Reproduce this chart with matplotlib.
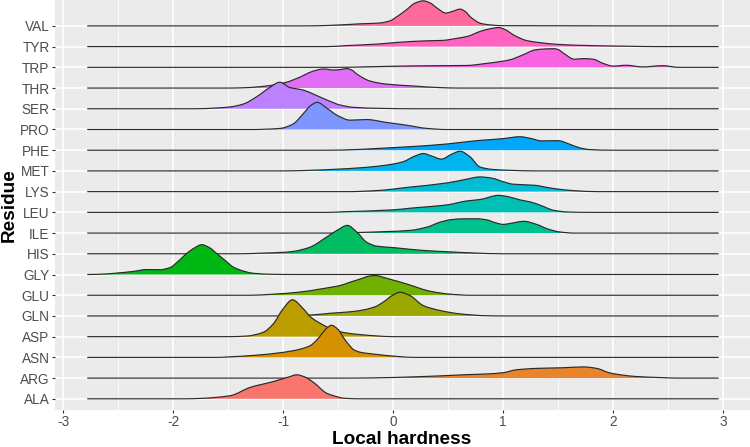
import numpy as np
import matplotlib
matplotlib.use("Agg")
import matplotlib.pyplot as plt
from matplotlib.path import Path
from matplotlib.patches import PathPatch

plt.rcParams['font.family'] = ['Liberation Sans', 'DejaVu Sans']

residues = ["ALA", "ARG", "ASN", "ASP", "GLN", "GLU", "GLY", "HIS", "ILE", "LEU",
            "LYS", "MET", "PHE", "PRO", "SER", "THR", "TRP", "TYR", "VAL"]

x_ticks = [-3, -2, -1, 0, 1, 2, 3]

# density outlines: x (local hardness) and height (in row units)
ala_x = [-2.78, -1.9, -1.75, -1.48, -1.3, -1.09, -0.95, -0.875, -0.8, -0.725, -0.6, -0.54, -0.45, -0.3, 2.96]
ala_h = [0, 0, 0.02, 0.15, 0.55, 0.83, 1.05, 1.16, 1.05, 0.8, 0.26, 0.15, 0.03, 0, 0]

arg_x = [-2.78, -0.4, 0.0, 0.185, 0.44, 0.64, 0.85, 1.0, 1.12, 1.31, 1.55, 1.73, 1.85, 1.97, 2.08, 2.2, 2.41, 2.6, 2.96]
arg_h = [0, 0, 0.03, 0.06, 0.11, 0.16, 0.2, 0.26, 0.4, 0.47, 0.5, 0.54, 0.47, 0.25, 0.15, 0.08, 0.03, 0, 0]

asn_x = [-2.78, -1.6, -1.51, -1.21, -0.91, -0.755, -0.7, -0.66, -0.6, -0.56, -0.5, -0.45, -0.4, -0.36, -0.3, -0.16, 0.03, 0.2, 2.96]
asn_h = [0, 0, 0.02, 0.12, 0.32, 0.56, 0.8, 1.05, 1.42, 1.55, 1.35, 0.95, 0.6, 0.38, 0.25, 0.15, 0.05, 0, 0]

asp_x = [-2.78, -1.5, -1.33, -1.18, -1.09, -1.0, -0.915, -0.815, -0.755, -0.725, -0.63, -0.55, -0.45, -0.3, -0.16, 0.0, 2.96]
asp_h = [0, 0, 0.03, 0.21, 0.61, 1.34, 1.78, 1.34, 0.98, 0.85, 0.55, 0.35, 0.2, 0.1, 0.04, 0, 0]

gln_x = [-2.78, -1.0, -0.785, -0.57, -0.39, -0.27, -0.16, -0.08, -0.01, 0.064, 0.155, 0.275, 0.43, 0.61, 0.85, 1.0, 2.96]
gln_h = [0, 0, 0.03, 0.13, 0.2, 0.29, 0.45, 0.7, 0.98, 1.14, 0.98, 0.5, 0.26, 0.1, 0.01, 0, 0]

glu_x = [-2.78, -1.3, -1.09, -0.85, -0.66, -0.57, -0.48, -0.39, -0.3, -0.21, -0.16, -0.06, 0.12, 0.34, 0.52, 0.7, 2.96]
glu_h = [0, 0, 0.05, 0.15, 0.3, 0.38, 0.47, 0.63, 0.78, 0.93, 0.95, 0.82, 0.55, 0.19, 0.05, 0, 0]

gly_x = [-2.78, -2.6, -2.51, -2.36, -2.24, -2.12, -2.03, -1.95, -1.88, -1.8, -1.74, -1.67, -1.6, -1.52, -1.45, -1.35, -1.27, -1.1, -0.9, 2.96]
gly_h = [0, 0.03, 0.07, 0.15, 0.24, 0.23, 0.33, 0.65, 1.0, 1.3, 1.44, 1.3, 1.0, 0.65, 0.35, 0.15, 0.06, 0.01, 0, 0]

his_x = [-2.78, -1.4, -1.2, -0.97, -0.9, -0.755, -0.6, -0.51, -0.415, -0.33, -0.24, -0.15, 0.0, 0.15, 0.31, 0.49, 0.73, 1.0, 2.96]
his_h = [0, 0, 0.03, 0.08, 0.12, 0.32, 0.82, 1.13, 1.37, 1.05, 0.56, 0.37, 0.3, 0.22, 0.15, 0.1, 0.04, 0, 0]

ile_x = [-2.78, -0.5, -0.3, 0.155, 0.31, 0.43, 0.53, 0.65, 0.76, 0.85, 0.93, 1.0, 1.1, 1.185, 1.31, 1.4, 1.52, 1.65, 2.96]
ile_h = [0, 0, 0.03, 0.13, 0.29, 0.53, 0.65, 0.69, 0.69, 0.64, 0.5, 0.42, 0.5, 0.57, 0.41, 0.21, 0.05, 0, 0]

leu_x = [-2.78, -0.6, -0.45, 0.0, 0.155, 0.29, 0.49, 0.67, 0.79, 0.96, 1.06, 1.155, 1.25, 1.34, 1.46, 1.58, 1.8, 2.96]
leu_h = [0, 0, 0.03, 0.12, 0.2, 0.26, 0.36, 0.55, 0.62, 0.82, 0.74, 0.6, 0.5, 0.34, 0.1, 0.02, 0, 0]

lys_x = [-2.78, -0.4, -0.15, 0.155, 0.49, 0.65, 0.79, 0.9, 1.0, 1.09, 1.28, 1.46, 1.64, 1.85, 2.96]
lys_h = [0, 0, 0.05, 0.22, 0.42, 0.58, 0.71, 0.65, 0.48, 0.36, 0.31, 0.15, 0.05, 0, 0]

met_x = [-2.78, -1.0, -0.75, -0.3, -0.06, 0.09, 0.2, 0.275, 0.35, 0.44, 0.53, 0.61, 0.7, 0.79, 0.91, 1.06, 1.3, 2.96]
met_h = [0, 0, 0.03, 0.15, 0.28, 0.44, 0.72, 0.84, 0.72, 0.57, 0.8, 0.95, 0.68, 0.19, 0.07, 0.03, 0, 0]

phe_x = [-2.78, -0.6, -0.3, -0.16, 0.155, 0.49, 0.76, 0.91, 1.0, 1.155, 1.25, 1.35, 1.5, 1.61, 1.7, 1.79, 2.0, 2.96]
phe_h = [0, 0, 0.04, 0.08, 0.17, 0.3, 0.46, 0.52, 0.56, 0.65, 0.57, 0.45, 0.46, 0.28, 0.11, 0.03, 0, 0]

pro_x = [-2.78, -1.3, -1.03, -0.91, -0.815, -0.75, -0.69, -0.6, -0.51, -0.39, -0.24, -0.06, 0.12, 0.31, 0.49, 2.96]
pro_h = [0, 0, 0.05, 0.26, 0.77, 1.15, 1.31, 1.02, 0.69, 0.45, 0.48, 0.34, 0.21, 0.05, 0, 0]

ser_x = [-2.78, -1.8, -1.6, -1.48, -1.36, -1.24, -1.12, -1.03, -0.94, -0.815, -0.725, -0.6, -0.48, -0.36, -0.12, 0.2, 2.96]
ser_h = [0, 0, 0.04, 0.09, 0.23, 0.58, 1.03, 1.28, 1.03, 0.9, 0.71, 0.42, 0.18, 0.07, 0.02, 0, 0]

thr_x = [-2.78, -1.5, -1.33, -1.15, -0.97, -0.85, -0.75, -0.69, -0.63, -0.54, -0.47, -0.42, -0.37, -0.33, -0.21, -0.06, 0.185, 0.43, 0.6, 2.96]
thr_h = [0, 0, 0.02, 0.1, 0.28, 0.52, 0.77, 0.87, 0.92, 0.87, 0.9, 0.94, 0.85, 0.68, 0.34, 0.19, 0.1, 0.02, 0, 0]

trp_x = [-2.78, -0.5, -0.2, 0.2, 0.43, 0.67, 0.85, 1.0, 1.06, 1.18, 1.29, 1.36, 1.46, 1.5, 1.55, 1.65, 1.73, 1.82, 1.91, 2.0, 2.12, 2.27, 2.45, 2.6, 2.96]
trp_h = [0, 0, 0.03, 0.07, 0.08, 0.09, 0.19, 0.3, 0.36, 0.6, 0.84, 0.88, 0.9, 0.86, 0.68, 0.39, 0.42, 0.39, 0.19, 0.06, 0.1, 0.02, 0.08, 0, 0]

tyr_x = [-2.78, -0.6, -0.42, -0.12, 0.03, 0.31, 0.45, 0.58, 0.68, 0.79, 0.88, 0.96, 1.02, 1.1, 1.215, 1.34, 1.49, 1.79, 2.12, 2.4, 2.96]
tyr_h = [0, 0, 0.05, 0.13, 0.2, 0.28, 0.3, 0.4, 0.5, 0.73, 0.86, 0.92, 0.82, 0.55, 0.29, 0.19, 0.11, 0.05, 0.02, 0, 0]

val_x = [-2.78, -0.8, -0.6, -0.3, -0.12, -0.03, 0.05, 0.12, 0.2, 0.275, 0.34, 0.40, 0.48, 0.54, 0.61, 0.66, 0.7, 0.75, 0.79, 0.88, 1.0, 2.96]
val_h = [0, 0, 0.02, 0.1, 0.14, 0.24, 0.5, 0.77, 1.1, 1.21, 1.1, 0.86, 0.62, 0.7, 0.81, 0.68, 0.45, 0.25, 0.13, 0.05, 0.01, 0]

series = {
    "ALA": (ala_x, ala_h), "ARG": (arg_x, arg_h), "ASN": (asn_x, asn_h),
    "ASP": (asp_x, asp_h), "GLN": (gln_x, gln_h), "GLU": (glu_x, glu_h),
    "GLY": (gly_x, gly_h), "HIS": (his_x, his_h), "ILE": (ile_x, ile_h),
    "LEU": (leu_x, leu_h), "LYS": (lys_x, lys_h), "MET": (met_x, met_h),
    "PHE": (phe_x, phe_h), "PRO": (pro_x, pro_h), "SER": (ser_x, ser_h),
    "THR": (thr_x, thr_h), "TRP": (trp_x, trp_h), "TYR": (tyr_x, tyr_h),
    "VAL": (val_x, val_h),
}


def hcl_hex(h, c=100.0, l=65.0):
    hr = np.deg2rad(h)
    U, V = c * np.cos(hr), c * np.sin(hr)
    Xn, Yn, Zn = 95.047, 100.0, 108.883
    den = Xn + 15 * Yn + 3 * Zn
    un, vn = 4 * Xn / den, 9 * Yn / den
    Y = Yn * ((l + 16) / 116) ** 3
    u = U / (13 * l) + un
    v = V / (13 * l) + vn
    X = 9.0 * Y * u / (4 * v)
    Z = -X / 3 - 5 * Y + 3 * Y / v
    X, Y, Z = X / 100, Y / 100, Z / 100
    r = 3.240479 * X - 1.53715 * Y - 0.498535 * Z
    g = -0.969256 * X + 1.875992 * Y + 0.041556 * Z
    b = 0.055648 * X - 0.204043 * Y + 1.057311 * Z
    out = []
    for ch in (r, g, b):
        ch = 12.92 * ch if ch <= 0.0031308 else 1.055 * ch ** (1 / 2.4) - 0.055
        out.append(min(max(ch, 0.0), 1.0))
    return tuple(out)


def smooth_path_parts(xs, ys):
    """Cubic Bezier pieces through the read points (monotone tangents, no overshoot)."""
    xs = np.asarray(xs, float)
    ys = np.asarray(ys, float)
    k = len(xs)
    d = np.diff(ys) / np.diff(xs)
    m = np.zeros(k)
    for j in range(1, k - 1):
        if d[j - 1] * d[j] > 0:
            h0, h1 = xs[j] - xs[j - 1], xs[j + 1] - xs[j]
            w1, w2 = 2 * h1 + h0, h1 + 2 * h0
            m[j] = (w1 + w2) / (w1 / d[j - 1] + w2 / d[j])
    verts = [(xs[0], ys[0])]
    codes = [Path.MOVETO]
    for j in range(k - 1):
        dx = xs[j + 1] - xs[j]
        verts += [(xs[j] + dx / 3, ys[j] + m[j] * dx / 3),
                  (xs[j + 1] - dx / 3, ys[j + 1] - m[j + 1] * dx / 3),
                  (xs[j + 1], ys[j + 1])]
        codes += [Path.CURVE4] * 3
    return verts, codes


n = len(residues)
colors = [hcl_hex(15 + 360.0 * i / n) for i in range(n)]

fig = plt.figure(figsize=(7.5, 4.47), dpi=100)
ax = fig.add_axes([55 / 750, 37 / 447, 695 / 750, 410 / 447])
ax.set_facecolor('#EBEBEB')
for s in ax.spines.values():
    s.set_visible(False)

for i in range(n - 1, -1, -1):
    name = residues[i]
    xs, hs = series[name]
    top = [i + h for h in hs]
    verts, codes = smooth_path_parts(xs, top)
    z = 10 + (n - i) * 2
    fill_verts = [(xs[0], i)] + verts + [(xs[-1], i), (xs[0], i)]
    fill_codes = [Path.MOVETO, Path.LINETO] + codes[1:] + [Path.LINETO, Path.CLOSEPOLY]
    ax.add_patch(PathPatch(Path(fill_verts, fill_codes), facecolor=colors[i],
                           edgecolor='none', lw=0, zorder=z))
    ax.add_patch(PathPatch(Path(verts, codes), facecolor='none', edgecolor='#2a2a2a',
                           lw=0.85, zorder=z + 1, capstyle='butt'))

ax.set_xlim(-3.073, 3.245)
ax.set_ylim(-0.54, 19.25)
ax.set_xticks(x_ticks)
ax.set_xticklabels([str(t) for t in x_ticks])
ax.set_xticks([-2.5, -1.5, -0.5, 0.5, 1.5, 2.5], minor=True)
ax.set_yticks(range(n))
ax.set_yticklabels(residues)
ax.grid(which='major', color='white', lw=1.2, zorder=0)
ax.grid(which='minor', axis='x', color='white', lw=0.6, zorder=0)
ax.set_axisbelow(True)
ax.tick_params(which='major', length=2.4, width=0.8, color='#333333',
               labelcolor='#4D4D4D', labelsize=9.8, pad=1.5)
ax.tick_params(which='minor', length=0)

fig.text(402 / 750, 2.5 / 447, 'Local hardness', ha='center', va='baseline',
         fontsize=13.7, fontweight='bold', color='black')
fig.text(9 / 750, 1 - 205 / 447, 'Residue', ha='center', va='center', rotation=90,
         fontsize=13.7, fontweight='bold', color='black')

fig.savefig('out.png', dpi=100)
